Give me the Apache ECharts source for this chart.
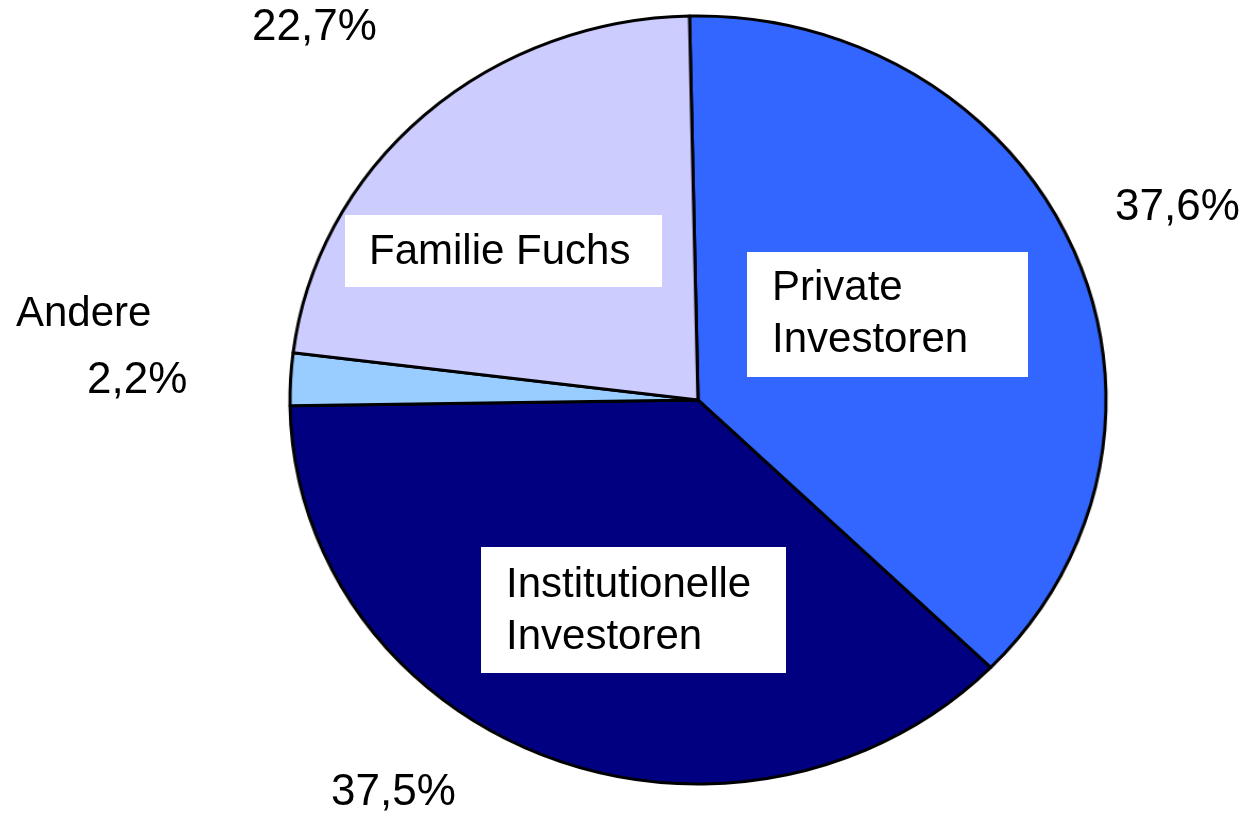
<!DOCTYPE html>
<html>
<head>
<meta charset="utf-8">
<script src="https://cdn.jsdelivr.net/npm/echarts@6/dist/echarts.min.js"></script>
<style>
  html, body { margin: 0; padding: 0; background: #fff; overflow: hidden; }
  #wrap { position: relative; width: 1250px; height: 816px; overflow: hidden; }
  #pie, #labels { position: absolute; left: 0; top: 0; width: 1250px; height: 816px; }
  /* the source pie is a slightly flattened ellipse, so only the slices get stretched */
  #pie { transform: scaleX(1.0625); transform-origin: 698px 400px; }
</style>
</head>
<body>
<div id="wrap">
  <div id="pie"></div>
  <div id="labels"></div>
</div>
<script>
const categories = ["Private\nInvestoren", "Institutionelle\nInvestoren", "Andere", "Familie Fuchs"];
const shares = [37.6, 37.5, 2.2, 22.7];
const colors = ["#3366FF", "#000080", "#99CCFF", "#CCCCFF"];

const center = [698, 400];
const radius = 384;
const startAngle = 91.2;
const font = "Liberation Sans, Arial, sans-serif";

// where each label box sits (top-left), per slice
const nameSpots = [
  { x: 747, y: 252, width: 256, padding: [10, 0, 11, 25], box: true },
  { x: 481, y: 547, width: 280, padding: [12, 0, 10, 25], box: true },
  { x: 16, y: 288, box: false },
  { x: 345, y: 215, width: 293, padding: [11, 0, 9, 24], box: true },
];
const valueSpots = [
  { x: 1115, y: 182 },
  { x: 331, y: 767 },
  { x: 87, y: 355 },
  { x: 252, y: 2 },
];

const fmt = (v) => v.toFixed(1).replace(".", ",") + "%";

const slices = categories.map((name, i) => ({
  name,
  value: shares[i],
  itemStyle: { color: colors[i] },
}));

const pie = echarts.init(document.getElementById("pie"), null, { renderer: "canvas" });
pie.setOption({
  animation: false,
  series: [{
    type: "pie",
    center,
    radius,
    startAngle,
    clockwise: true,
    silent: true,
    label: { show: false },
    labelLine: { show: false },
    itemStyle: { borderColor: "#000", borderWidth: 3 },
    data: slices,
  }],
});

const baseLabel = {
  show: true,
  position: "inside",
  color: "#000",
  fontFamily: font,
  fontSize: 42,
  lineHeight: 52,
  align: "left",
};

const labels = echarts.init(document.getElementById("labels"), null, { renderer: "canvas" });
labels.setOption({
  animation: false,
  series: [
    {
      type: "pie",
      center,
      radius,
      startAngle,
      silent: true,
      avoidLabelOverlap: false,
      itemStyle: { color: "transparent", borderWidth: 0 },
      labelLine: { show: false },
      label: Object.assign({}, baseLabel, { formatter: (p) => p.name }),
      labelLayout: (p) => {
        const s = nameSpots[p.dataIndex];
        return { x: s.x, y: s.y, align: "left", verticalAlign: "top" };
      },
      data: categories.map((name, i) => {
        const s = nameSpots[i];
        return {
          name,
          value: shares[i],
          label: s.box
            ? { backgroundColor: "#fff", padding: s.padding, width: s.width }
            : {},
        };
      }),
    },
    {
      type: "pie",
      center,
      radius,
      startAngle,
      silent: true,
      avoidLabelOverlap: false,
      itemStyle: { color: "transparent", borderWidth: 0 },
      labelLine: { show: false },
      label: Object.assign({}, baseLabel, { fontSize: 44, formatter: (p) => fmt(p.value) }),
      labelLayout: (p) => {
        const s = valueSpots[p.dataIndex];
        return { x: s.x, y: s.y, align: "left", verticalAlign: "top" };
      },
      data: categories.map((name, i) => ({ name, value: shares[i] })),
    },
  ],
});
</script>
</body>
</html>
